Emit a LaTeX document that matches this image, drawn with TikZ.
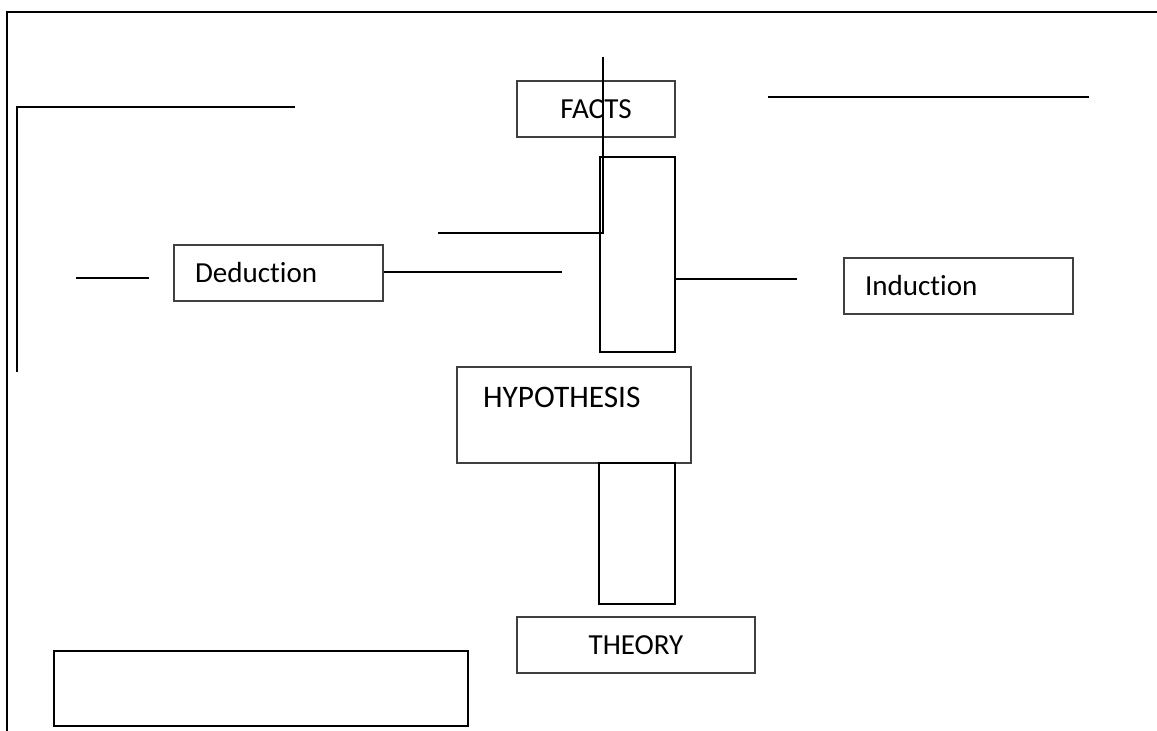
\documentclass[tikz,border=0pt]{standalone}
\usepackage{fontspec}
\setmainfont{Carlito}[Ligatures={NoCommon}]
\usetikzlibrary{positioning}
\newlength\px
\setlength\px{0.75pt}
\tikzset{labelbox/.style={rectangle, draw=black!75, line width=1.2\px, inner sep=0pt, font=\fontsize{21.8}{26}\selectfont}}
\tikzset{plainbar/.style={rectangle, draw=black, line width=1.8\px, inner sep=0pt}}
\tikzset{rule/.style={line width=2\px, draw=black}}

\begin{document}
\begin{tikzpicture}[x=0.75pt, y=-0.75pt]
        \useasboundingbox (0,0) rectangle (1157,731);
        % boxes
        \node (facts) [labelbox, minimum width=158\px, minimum height=56\px] at (596,109) {FACTS};
        \node (deduction) [labelbox, minimum height=56\px, inner xsep=21\px, text width=167\px, align=left] at (278.5,273) {Deduction};
        \node (induction) [labelbox, minimum height=56\px, inner xsep=21\px, text width=187\px, align=left] at (958.5,286) {Induction};
        \node (hyp) [labelbox, minimum width=234\px, minimum height=96\px] at (574,415) {};
        \node (hyptext) [anchor=base west, xshift=22\px, yshift=-41\px, font=\fontsize{23.5}{28}\selectfont] at (hyp.north west) {HYPOTHESIS};
        \node (theory) [labelbox, minimum width=238\px, minimum height=56\px] at (636,645) {THEORY};
        \node (blank) [plainbar, minimum width=414\px, minimum height=75\px] at (261,688.5) {};
        \node (bar1) [plainbar, minimum width=75\px, minimum height=195\px] at (637.5,254.5) {};
        \node (bar2) [plainbar, minimum width=76\px, minimum height=141\px] at (637,533.5) {};
        % free ends
        \coordinate (framebot) at (7,731);
        \coordinate (framecorner) at (7,12);
        \coordinate (frameright) at (1157,12);
        \coordinate (innerbot) at (17,372);
        \coordinate (innercorner) at (17,107);
        \coordinate (innerright) at (295,107);
        \coordinate (stubleft) at (76,278);
        \coordinate (stubright) at (149,278);
        \coordinate (dedend) at (562,272);
        \coordinate (indend) at (797,279);
        \coordinate (factstop) at (603,57);
        \coordinate (factscorner) at (603,233);
        \coordinate (factsleft) at (438,233);
        \coordinate (topleft) at (768,97);
        \coordinate (topright) at (1089,97);
        % lines
        \draw [rule] (framebot) -- (framecorner) -- (frameright);
        \draw [rule] (innerbot) -- (innercorner) -- (innerright);
        \draw [rule] (stubleft) -- (stubright);
        \draw [rule] (deduction.east |- dedend) -- (dedend);
        \draw [rule] (bar1.east |- indend) -- (indend);
        \draw [rule] (factstop) -- (factscorner) -- (factsleft);
        \draw [rule] (topleft) -- (topright);
    \end{tikzpicture}
\end{document}
